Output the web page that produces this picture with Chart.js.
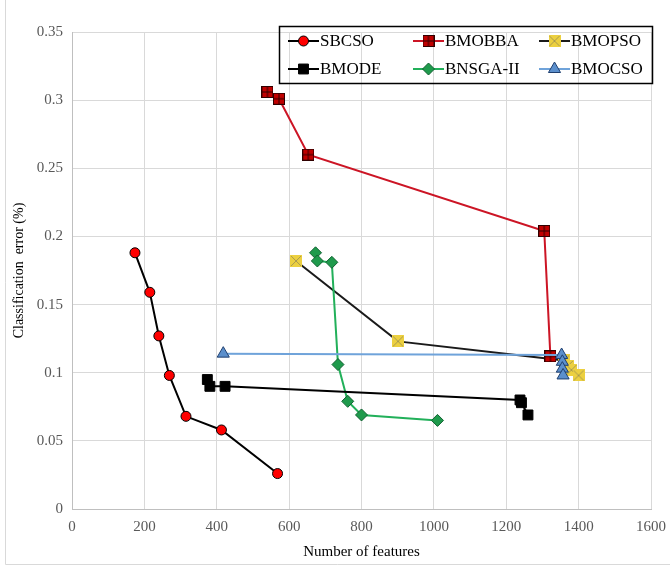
<!DOCTYPE html>
<html>
<head>
<meta charset="utf-8">
<script src="https://cdn.jsdelivr.net/npm/chart.js@4.4.1/dist/chart.umd.min.js"></script>
<style>
  html, body { margin: 0; padding: 0; background: #fff; }
  #wrap { position: relative; width: 670px; height: 567px; }
</style>
</head>
<body>
<div id="wrap"><canvas id="frontChart" width="670" height="567"></canvas></div>
<script>
// Pareto fronts: number of selected features vs. classification error
const seriesNames = ['SBCSO', 'BMOBBA', 'BMOPSO', 'BMODE', 'BNSGA-II', 'BMOCSO'];

const sbcsoFeatures = [174, 215, 240, 269, 315, 413, 568];
const sbcsoError = [0.188, 0.159, 0.127, 0.098, 0.068, 0.058, 0.026];

const bmobbaFeatures = [540, 572, 653, 1305, 1322];
const bmobbaError = [0.306, 0.301, 0.260, 0.204, 0.112];

const bmopsoFeatures = [619, 901, 1360, 1370, 1380, 1400];
const bmopsoError = [0.182, 0.123, 0.109, 0.105, 0.102, 0.098];

const bmodeFeatures = [374, 381, 423, 1238, 1242, 1260];
const bmodeError = [0.095, 0.090, 0.090, 0.080, 0.078, 0.069];

const bnsgaFeatures = [673, 678, 718, 735, 762, 800, 1010];
const bnsgaError = [0.188, 0.182, 0.181, 0.106, 0.079, 0.069, 0.065];

const bmocsoFeatures = [418, 1353, 1355, 1355, 1357];
const bmocsoError = [0.114, 0.113, 0.108, 0.103, 0.098];

const xTicks = [0, 200, 400, 600, 800, 1000, 1200, 1400, 1600];
const yTicks = [0, 0.05, 0.1, 0.15, 0.2, 0.25, 0.3, 0.35];

function toPoints(xs, ys) {
  return xs.map((x, i) => ({ x: x, y: ys[i] }));
}

// small marker images for the two custom point styles
function squareMarker(size, fill, stroke, mark) {
  const c = document.createElement('canvas');
  c.width = size;
  c.height = size;
  const g = c.getContext('2d');
  g.fillStyle = fill;
  g.fillRect(0, 0, size, size);
  g.strokeStyle = stroke;
  g.lineWidth = 1;
  if (mark === 'plus') {
    g.strokeRect(0.5, 0.5, size - 1, size - 1);
    g.beginPath();
    g.moveTo(size / 2, 1); g.lineTo(size / 2, size - 1);
    g.moveTo(1, size / 2); g.lineTo(size - 1, size / 2);
  } else {
    g.beginPath();
    g.moveTo(1, 1); g.lineTo(size - 1, size - 1);
    g.moveTo(size - 1, 1); g.lineTo(1, size - 1);
  }
  g.stroke();
  return c;
}

const plusSquare = squareMarker(12, '#c00000', '#300000', 'plus');
const crossSquare = squareMarker(12, '#ecd040', '#a89a50', 'cross');

const datasets = [
  {
    label: seriesNames[0],
    data: toPoints(sbcsoFeatures, sbcsoError),
    borderColor: '#000000', borderWidth: 2,
    pointStyle: 'circle', pointRadius: 5,
    pointBackgroundColor: '#ff0000', pointBorderColor: '#000000', pointBorderWidth: 1,
    order: 1
  },
  {
    label: seriesNames[1],
    data: toPoints(bmobbaFeatures, bmobbaError),
    borderColor: '#cc1525', borderWidth: 2,
    pointStyle: plusSquare, pointRadius: 6,
    pointBackgroundColor: '#c00000', pointBorderColor: '#300000', pointBorderWidth: 1,
    order: 1
  },
  {
    label: seriesNames[2],
    data: toPoints(bmopsoFeatures, bmopsoError),
    borderColor: '#1a1a1a', borderWidth: 2,
    pointStyle: crossSquare, pointRadius: 6,
    pointBackgroundColor: '#ecd040', pointBorderColor: '#a89a50', pointBorderWidth: 1,
    order: 2
  },
  {
    label: seriesNames[3],
    data: toPoints(bmodeFeatures, bmodeError),
    borderColor: '#000000', borderWidth: 2,
    pointStyle: 'rect', pointRadius: 7,
    pointBackgroundColor: '#000000', pointBorderColor: '#000000', pointBorderWidth: 1,
    order: 1
  },
  {
    label: seriesNames[4],
    data: toPoints(bnsgaFeatures, bnsgaError),
    borderColor: '#22b05a', borderWidth: 2,
    pointStyle: 'rectRot', pointRadius: 6,
    pointBackgroundColor: '#1f9a4c', pointBorderColor: '#106030', pointBorderWidth: 1,
    order: 1
  },
  {
    label: seriesNames[5],
    data: toPoints(bmocsoFeatures, bmocsoError),
    borderColor: '#6fa3da', borderWidth: 2,
    pointStyle: 'triangle', pointRadius: 7,
    pointBackgroundColor: '#5b8fcc', pointBorderColor: '#1f3f6f', pointBorderWidth: 1,
    order: 0
  }
];

// boxed legend in three columns, line sample with the marker in the middle
const boxLegend = {
  id: 'boxLegend',
  afterDraw(chart) {
    const ctx = chart.ctx;
    ctx.save();
    ctx.strokeStyle = '#000';
    ctx.lineWidth = 1.5;
    ctx.strokeRect(279.5, 26.5, 373, 57);

    const cols = [288, 413, 539];
    const rows = [41, 69];
    ctx.font = '17px "Liberation Serif", "Times New Roman", serif';
    ctx.textBaseline = 'middle';
    chart.data.datasets.forEach((ds, i) => {
      const x = cols[i % 3];
      const y = rows[Math.floor(i / 3)];
      ctx.strokeStyle = ds.borderColor;
      ctx.lineWidth = 2;
      ctx.beginPath();
      ctx.moveTo(x, y);
      ctx.lineTo(x + 31, y);
      ctx.stroke();
      ctx.fillStyle = ds.pointBackgroundColor;
      ctx.strokeStyle = ds.pointBorderColor;
      ctx.lineWidth = 1;
      Chart.helpers.drawPoint(ctx, {
        pointStyle: ds.pointStyle,
        radius: ds.pointRadius,
        rotation: 0,
        borderWidth: 1
      }, x + 15.5, y);
      ctx.fillStyle = '#000';
      ctx.fillText(ds.label, x + 32, y + 1);
    });

    // light frame round the whole figure
    ctx.strokeStyle = '#d9d9d9';
    ctx.lineWidth = 1;
    ctx.beginPath();
    ctx.moveTo(5.5, 0);
    ctx.lineTo(5.5, 564.5);
    ctx.lineTo(670, 564.5);
    ctx.stroke();
    ctx.restore();
  }
};

const serif = '"Liberation Serif", "Times New Roman", serif';
const tickFont = { family: serif, size: 15 };

new Chart(document.getElementById('frontChart'), {
  type: 'scatter',
  data: { datasets: datasets },
  options: {
    responsive: false,
    animation: false,
    showLine: true,
    layout: { padding: { top: 32, right: 19, left: 0, bottom: 0 } },
    elements: { line: { tension: 0, fill: false } },
    plugins: {
      legend: { display: false },
      tooltip: { enabled: false }
    },
    scales: {
      x: {
        type: 'linear',
        min: xTicks[0],
        max: xTicks[xTicks.length - 1],
        afterBuildTicks(scale) {
          scale.ticks = xTicks.map(v => ({ value: v }));
        },
        afterFit(scale) {
          scale.height = 58;
          scale.paddingLeft = 0;
          scale.paddingRight = 0;
        },
        grid: { color: '#d9d9d9', lineWidth: 1, drawTicks: false },
        border: { color: '#bfbfbf' },
        ticks: {
          color: '#595959',
          font: tickFont,
          padding: 9,
          maxRotation: 0,
          callback: v => String(v)
        },
        title: {
          display: true,
          text: 'Number of features',
          color: '#000',
          font: { family: serif, size: 15 },
          padding: { top: 0, bottom: 6 }
        }
      },
      y: {
        type: 'linear',
        min: yTicks[0],
        max: yTicks[yTicks.length - 1],
        afterBuildTicks(scale) {
          scale.ticks = yTicks.map(v => ({ value: v }));
        },
        afterFit(scale) { scale.width = 72; },
        grid: { color: '#d9d9d9', lineWidth: 1, drawTicks: false },
        border: { color: '#bfbfbf' },
        ticks: {
          color: '#595959',
          font: tickFont,
          padding: 9,
          callback: v => String(v)
        },
        title: {
          display: true,
          text: 'Classification  error (%)',
          color: '#000',
          font: { family: serif, size: 14 },
          padding: { top: 11, bottom: 0 }
        }
      }
    }
  },
  plugins: [boxLegend]
});
</script>
</body>
</html>
